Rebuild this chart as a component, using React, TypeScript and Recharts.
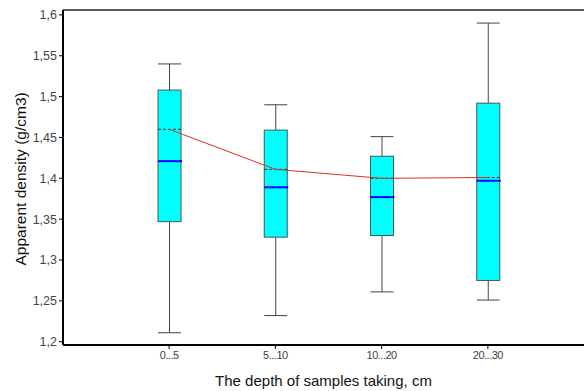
import { ComposedChart, Bar, Line, XAxis, YAxis, ReferenceLine } from "recharts";

const depths = ["0...5", "5...10", "10...20", "20...30"];
const minValues = [1.211, 1.232, 1.261, 1.251];
const q1Values = [1.347, 1.328, 1.33, 1.275];
const medianValues = [1.421, 1.389, 1.377, 1.397];
const meanValues = [1.46, 1.411, 1.4, 1.401];
const q3Values = [1.508, 1.459, 1.427, 1.492];
const maxValues = [1.54, 1.49, 1.451, 1.59];

const yTicks = [1.2, 1.25, 1.3, 1.35, 1.4, 1.45, 1.5, 1.55, 1.6];
const yTickLabels = ["1,2", "1,25", "1,3", "1,35", "1,4", "1,45", "1,5", "1,55", "1,6"];
const yDomain = [1.196, 1.606];

const data = depths.map((depth, i) => ({
    depth,
    min: minValues[i],
    q1: q1Values[i],
    median: medianValues[i],
    mean: meanValues[i],
    q3: q3Values[i],
    max: maxValues[i],
}));

const font = "'Liberation Sans', Arial, sans-serif";

function BoxShape(props: any) {
    const { x, y, width, height, payload } = props;
    const { min, max, q1, q3, median, mean } = payload;
    // map a value to pixels using the bar's own [min, max] extent
    const py = (v: number) => y + ((max - v) / (max - min)) * height;
    const cx = x + width / 2;
    return (
        <g>
            <line x1={cx} x2={cx} y1={py(max)} y2={py(q3)} stroke="#444" strokeWidth={1} />
            <line x1={cx} x2={cx} y1={py(q1)} y2={py(min)} stroke="#444" strokeWidth={1} />
            <line x1={x} x2={x + width} y1={py(max)} y2={py(max)} stroke="#444" strokeWidth={1} />
            <line x1={x} x2={x + width} y1={py(min)} y2={py(min)} stroke="#444" strokeWidth={1} />
            <rect
                x={x}
                y={py(q3)}
                width={width}
                height={py(q1) - py(q3)}
                fill="#00ffff"
                stroke="#3c5c5c"
                strokeWidth={1}
            />
            <line
                x1={x}
                x2={x + width}
                y1={py(mean)}
                y2={py(mean)}
                stroke="#333"
                strokeWidth={1}
                strokeDasharray="3 2"
            />
            <line x1={x} x2={x + width + 1} y1={py(median)} y2={py(median)} stroke="#0000ff" strokeWidth={2} />
        </g>
    );
}

export default function App() {
    return (
        <div style={{ position: "absolute", left: 0, top: 0, width: 584, height: 391, background: "#fff" }}>
            <ComposedChart
                width={584}
                height={391}
                data={data}
                margin={{ top: 10, right: 0, bottom: 0, left: 0 }}
            >
                <XAxis
                    dataKey="depth"
                    padding={{ left: 53, right: 43 }}
                    axisLine={{ stroke: "#000", strokeWidth: 2 }}
                    tickLine={{ stroke: "#000" }}
                    tickSize={4}
                    tick={{ fill: "#444", fontSize: 11, fontFamily: font, letterSpacing: -0.5 }}
                    height={46}
                    label={{
                        value: "The depth of samples taking, cm",
                        position: "insideBottom",
                        offset: 5,
                        fill: "#111",
                        fontSize: 15,
                        fontFamily: font,
                    }}
                />
                <YAxis
                    type="number"
                    domain={yDomain}
                    ticks={yTicks}
                    tickFormatter={(v: number) => yTickLabels[yTicks.indexOf(v)] ?? String(v)}
                    axisLine={{ stroke: "#000", strokeWidth: 2 }}
                    tickLine={{ stroke: "#000" }}
                    tickSize={4}
                    tick={{ fill: "#444", fontSize: 12.5, fontFamily: font }}
                    width={63}
                    allowDataOverflow
                    label={{
                        value: "Apparent density (g/cm3)",
                        angle: -90,
                        position: "insideLeft",
                        offset: 20,
                        dy: 88,
                        fill: "#111",
                        fontSize: 15.5,
                        fontFamily: font,
                    }}
                />
                <ReferenceLine y={yDomain[1]} stroke="#222" strokeWidth={1.5} />
                <Bar
                    dataKey={(d: any) => [d.min, d.max]}
                    barSize={23}
                    shape={<BoxShape />}
                    isAnimationActive={false}
                />
                <Line
                    dataKey="mean"
                    type="linear"
                    stroke="#e0301e"
                    strokeWidth={1}
                    dot={false}
                    activeDot={false}
                    isAnimationActive={false}
                />
            </ComposedChart>
        </div>
    );
}
